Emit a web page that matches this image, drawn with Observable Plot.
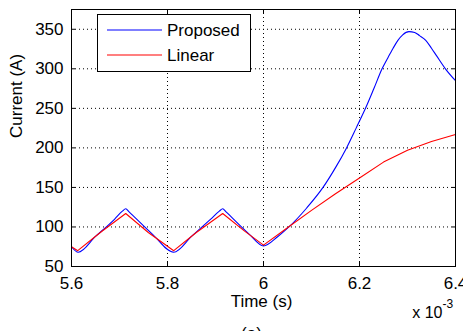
<!DOCTYPE html>
<html>
<head>
<meta charset="utf-8">
<script src="https://cdn.jsdelivr.net/npm/d3@7"></script>
<script src="https://cdn.jsdelivr.net/npm/@observablehq/plot@0.6"></script>
<style>
html, body { margin: 0; padding: 0; background: white; overflow: hidden; }
</style>
</head>
<body>
<div id="chart"></div>
<script>
// time in units of 1e-3 s
const proposedT = [5.600,5.614,5.650,5.690,5.706,5.713,5.720,5.770,5.813,5.850,5.890,5.908,5.915,5.922,5.970,6.000,6.030,6.053,6.090,6.124,6.150,6.173,6.193,6.2125,6.230,6.247,6.260,6.270,6.280,6.290,6.303,6.315,6.325,6.338,6.350,6.360,6.379,6.400];
const proposedI = [75,68,88,110,120,123,119,90,68,88,110,120,123,119,91,76,88,100,124,150,175,200,225,250,275,300,315,326,336,343,347,346,342,336,326,317,300,285];
const linearT = [5.600,5.613,5.660,5.713,5.760,5.813,5.860,5.915,5.960,6.000,6.052,6.100,6.150,6.200,6.250,6.300,6.350,6.400];
const linearI = [75,70,93,117,93,70,93,117,95,77,100,121,142,162,182,197,208,217];
const xTicks = [5.6,5.8,6.0,6.2,6.4];
const xTickLabels = ["5.6","5.8","6","6.2","6.4"];
const yTicks = [50,100,150,200,250,300,350];
const seriesNames = ["Proposed","Linear"];
const seriesColors = ["#0000ff","#ff0000"];

const proposed = proposedT.map((t,i)=>({t, v: proposedI[i]}));
const linear = linearT.map((t,i)=>({t, v: linearI[i]}));

const dotted = {stroke:"black", strokeOpacity:1, strokeWidth:1, strokeDasharray:"1,3"};

const svg = Plot.plot({
  width: 463, height: 331,
  marginLeft: 71, marginRight: 8, marginTop: 9, marginBottom: 65,
  style: {fontFamily: "'Liberation Sans', Arial, sans-serif", fontSize: "17px", background: "white", color: "black"},
  x: {domain: [5.6, 6.4]},
  y: {domain: [50, 375]},
  marks: [
    Plot.gridX(xTicks, dotted),
    Plot.gridY(yTicks, dotted),
    Plot.line(proposed, {x:"t", y:"v", stroke: seriesColors[0], strokeWidth: 1.1, curve: "monotone-x"}),
    Plot.line(linear, {x:"t", y:"v", stroke: seriesColors[1], strokeWidth: 1.1}),
    Plot.frame({stroke:"black", strokeWidth: 1}),
    Plot.axisX(xTicks, {anchor:"bottom", tickSize:0, tickPadding:10, tickFormat:(d,i)=>xTickLabels[i], label:null}),
    Plot.axisY(yTicks, {anchor:"left", tickSize:0, tickPadding:8, label:null}),
    Plot.axisX(xTicks, {anchor:"bottom", tickSize:-4, tickFormat:()=>"", label:null}),
    Plot.axisX(xTicks, {anchor:"top", tickSize:-4, tickFormat:()=>"", label:null}),
    Plot.axisY(yTicks, {anchor:"left", tickSize:-4, tickFormat:()=>"", label:null}),
    Plot.axisY(yTicks, {anchor:"right", tickSize:-4, tickFormat:()=>"", label:null}),
    Plot.text(["Time (s)"], {frameAnchor:"bottom", dx:-2, dy: 35, lineAnchor:"middle", fontSize: 17}),
    Plot.text(["Current (A)"], {frameAnchor:"left", dx:-55, rotate:-90, fontSize: 17}),
    Plot.text(["x 10"], {frameAnchor:"bottom-right", dx:-13, dy:51, textAnchor:"end", lineAnchor:"bottom", fontSize: 16}),
    Plot.text(["-3"], {frameAnchor:"bottom-right", dx:-13, dy:41, textAnchor:"start", lineAnchor:"bottom", fontSize: 12}),
    Plot.text(["(a)"], {frameAnchor:"bottom", dx:-12, dy:60, lineAnchor:"top", fontSize: 17})
  ]
});

// legend
const g = d3.select(svg).append("g").attr("text-anchor", "start");
g.append("rect").attr("x", 97.5).attr("y", 14.5).attr("width", 153).attr("height", 57)
  .attr("fill", "white").attr("stroke", "black");
const rowsY = [30, 55];
seriesNames.forEach((name, i) => {
  g.append("line").attr("x1", 107).attr("x2", 162).attr("y1", rowsY[i]).attr("y2", rowsY[i])
    .attr("stroke", seriesColors[i]).attr("stroke-width", 1.1);
  g.append("text").attr("x", 167).attr("y", rowsY[i]).attr("dy", "0.35em")
    .attr("text-anchor", "start").attr("font-size", 17).attr("fill", "black").text(name);
});

document.getElementById("chart").appendChild(svg);
</script>
</body>
</html>
